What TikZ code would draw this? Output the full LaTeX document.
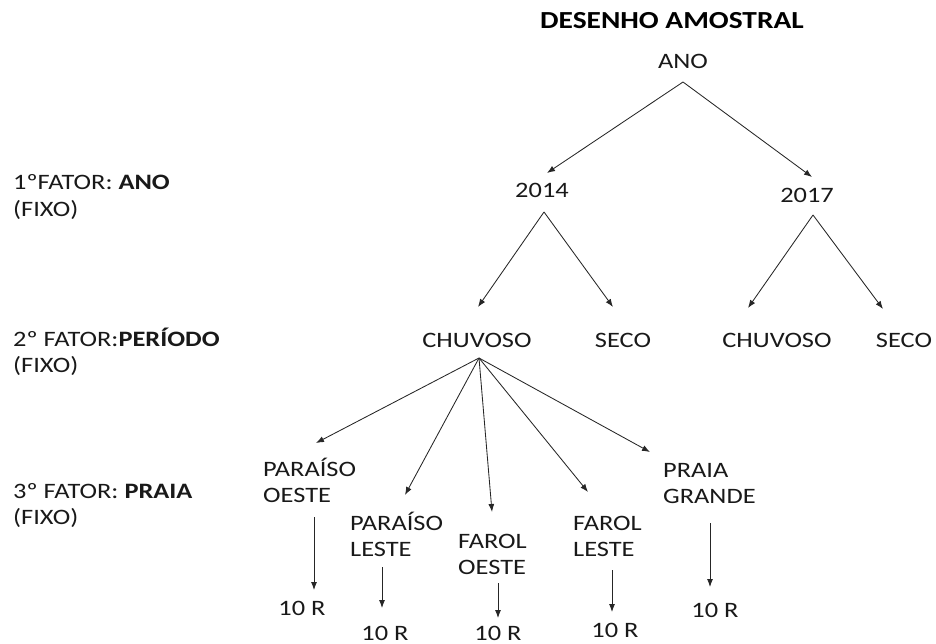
\documentclass[tikz,border=0pt]{standalone}
\usepackage{fontspec}
\setmainfont{Carlito}[FakeStretch=1.2]
\usetikzlibrary{arrows.meta,calc}
\tikzset{
  txt/.style={inner sep=0pt, font=\fontsize{22}{26.5}\selectfont, text=black!90},
  ttl/.style={inner sep=0pt, font=\fontsize{24.5}{28}\selectfont\bfseries, text=black},
  multi/.style={txt, align=left, anchor=base west},
  arr/.style={-{Latex[length=8pt,width=6pt]}, line width=0.85pt, draw=black!85}
}
\begin{document}
\begin{tikzpicture}[x=1pt,y=-1pt]
\useasboundingbox (0,0) rectangle (936,644);
% title and tree
\node[ttl, anchor=base] (title) at (672,28.5) {DESENHO AMOSTRAL};
\node[txt, anchor=base] (ano) at (683,69) {ANO};
\node[txt, anchor=base] (y14) at (542,198) {2014};
\node[txt, anchor=base] (y17) at (807,203) {2017};
\node[txt, anchor=base] (ch1) at (477,347) {CHUVOSO};
\node[txt, anchor=base] (se1) at (623,347) {SECO};
\node[txt, anchor=base] (ch2) at (777,347) {CHUVOSO};
\node[txt, anchor=base] (se2) at (904,347) {SECO};
% left labels (anchor is the baseline of the last line)
\node[multi] (f1) at (13,216.5) {1ºFATOR: \textbf{ANO}\\(FIXO)};
\node[multi] (f2) at (13,372.5) {2º FATOR:\textbf{PERÍODO}\\(FIXO)};
\node[multi] (f3) at (13,524.5) {3º FATOR: \textbf{PRAIA}\\(FIXO)};
% beaches
\node[multi] (po) at (263,502.5) {PARAÍSO\\OESTE};
\node[multi] (pl) at (350,556.5) {PARAÍSO\\LESTE};
\node[multi] (fo) at (458,574.5) {FAROL\\OESTE};
\node[multi] (fl) at (573,556.5) {FAROL\\LESTE};
\node[multi] (pg) at (663,503.5) {PRAIA\\GRANDE};
% replicates
\node[txt, anchor=base] (r1) at (302,615) {10 R};
\node[txt, anchor=base] (r2) at (385,640) {10 R};
\node[txt, anchor=base] (r3) at (498,640) {10 R};
\node[txt, anchor=base] (r4) at (615,637) {10 R};
\node[txt, anchor=base] (r5) at (715,617) {10 R};
% connectors
\draw[arr] ($(ano.base)+(0,13)$) -- ($(y14.base)+(5,-25)$);
\draw[arr] ($(ano.base)+(0,13)$) -- ($(y17.base)+(5,-26)$);
\draw[arr] ($(y14.base)+(2,14)$) -- ($(ch1.base)+(1,-40)$);
\draw[arr] ($(y14.base)+(2,14)$) -- ($(se1.base)+(-10,-40)$);
\draw[arr] ($(y17.base)+(6,12)$) -- ($(ch2.base)+(-29,-39)$);
\draw[arr] ($(y17.base)+(6,12)$) -- ($(se2.base)+(-21,-38)$);
\draw[arr] ($(ch1.base)+(2,11)$) -- ($(po.base west)+(53,-59.5)$);
\draw[arr] ($(ch1.base)+(2,11)$) -- ($(pl.base west)+(55,-61.5)$);
\draw[arr] ($(ch1.base)+(2,11)$) -- ($(fo.base west)+(34,-62.5)$);
\draw[arr] ($(ch1.base)+(2,11)$) -- ($(fl.base west)+(15,-64.5)$);
\draw[arr] ($(ch1.base)+(2,11)$) -- ($(pg.base west)+(-13,-51.5)$);
\draw[arr] ($(po.base west)+(51,14.5)$) -- ($(r1.base)+(12,-25)$);
\draw[arr] ($(pl.base west)+(32,10.5)$) -- ($(r2.base)+(-3,-32)$);
\draw[arr] ($(fo.base west)+(40,8.5)$) -- ($(r3.base)+(0,-22)$);
\draw[arr] ($(fl.base west)+(39,13.5)$) -- ($(r4.base)+(-3,-25)$);
\draw[arr] ($(pg.base west)+(47,19.5)$) -- ($(r5.base)+(-5,-30)$);
\end{tikzpicture}
\end{document}
